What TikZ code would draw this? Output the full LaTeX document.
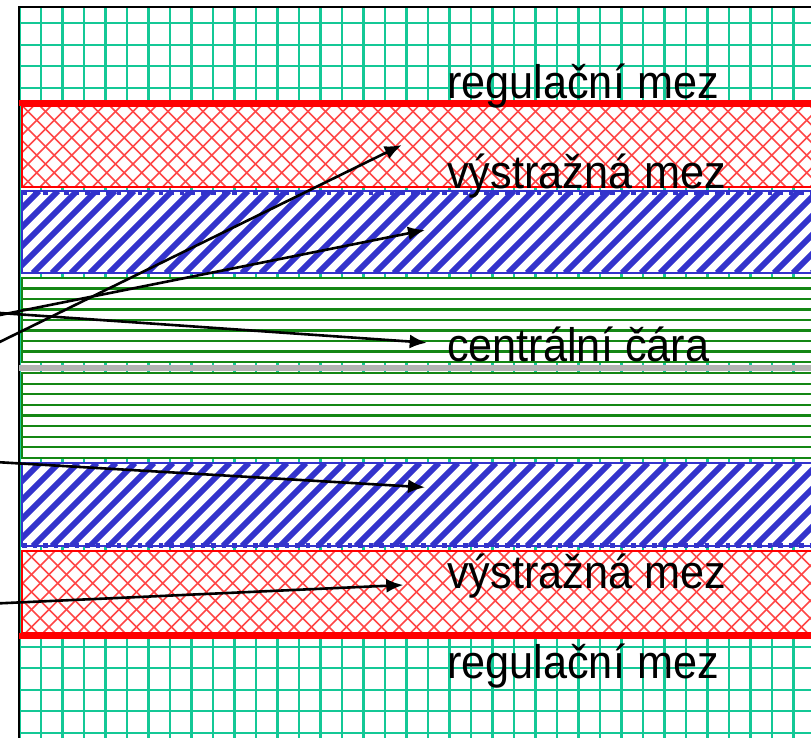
\documentclass[tikz,border=0pt]{standalone}
\usepackage{fontspec}
\setmainfont{Liberation Sans}
\newfontfamily\lblfont[FakeStretch=0.92]{Liberation Sans}
\usetikzlibrary{arrows.meta}
\definecolor{gridc}{RGB}{20,200,150}
\definecolor{hatchred}{RGB}{255,70,70}
\definecolor{bandblue}{RGB}{51,51,204}
\definecolor{bandgreen}{RGB}{20,135,20}
\definecolor{midgray}{RGB}{178,178,178}
\begin{document}
\begin{tikzpicture}[x=1pt,y=-1pt,
  lbl/.style={anchor=base west, inner sep=0pt, font=\lblfont\fontsize{47}{54}\selectfont},
  ptr/.style={line width=2.6pt, -{Latex[length=17pt,width=14pt]}},
  gridline/.style={gridc, line width=2.3pt},
  redh/.style={hatchred, line width=1.6pt},
  blueh/.style={bandblue, line width=5.8pt},
  greenh/.style={bandgreen, line width=2.2pt},
  redbox/.style={draw=red, line width=1.5pt},
  bluebox/.style={draw=bandblue, line width=1.8pt},
  greenbox/.style={draw=bandgreen, line width=1.8pt},
  limitline/.style={red, line width=6pt},
  dotedge/.style={bandblue, line width=4.5pt, dash pattern=on 4.5pt off 6pt},
  frameline/.style={black, line width=2.8pt}]
\clip (0,0) rectangle (811,737);
\fill[white] (0,0) rectangle (811,737);
% grid inside frame
\begin{scope}
\clip (19,7) rectangle (815,740);
\foreach \k in {0,...,37} \draw[gridline] ({19.5+21.5*\k},0) -- ++(0,740);
\foreach \k in {0,...,34} \draw[gridline] (0,{1.8+21.5*\k}) -- ++(815,0);
\end{scope}
% frame
\draw[frameline] (19,740) -- (19,7) -- (815,7);
% upper red band
\fill[white] (22,106) rectangle (815,187);
\begin{scope}
\clip (22,106) rectangle (815,187);
\foreach \k in {0,...,60} {
  \draw[redh] ({-100+17.5*\k},106) -- ++(81,81);
  \draw[redh] ({-100+17.5*\k},187) -- ++(81,-81);
}
\end{scope}
\draw[redbox] (22,106) rectangle (815,187);
% upper blue band
\fill[white] (22,191) rectangle (815,273);
\begin{scope}
\clip (22,191) rectangle (815,273);
\foreach \k in {0,...,55} \draw[blueh] ({-100+19*\k},273) -- ++(82,-82);
\end{scope}
\draw[bluebox] (22,191) rectangle (815,273);
\draw[dotedge] (22,192.5) -- (815,192.5);
% upper green band
\fill[white] (22,278) rectangle (815,362);
\foreach \k in {1,...,7} \draw[greenh] (22,{278+10.5*\k}) -- (815,{278+10.5*\k});
\draw[greenbox] (22,278) rectangle (815,362);
% central line
\draw[midgray, line width=5.5pt] (19,368) -- (815,368);
% lower green band
\fill[white] (22,373) rectangle (815,458);
\foreach \k in {1,...,7} \draw[greenh] (22,{373+10.6*\k}) -- (815,{373+10.6*\k});
\draw[greenbox] (22,373) rectangle (815,458);
% lower blue band
\fill[white] (22,463) rectangle (815,546);
\begin{scope}
\clip (22,463) rectangle (815,546);
\foreach \k in {0,...,55} \draw[blueh] ({-100+19*\k},546) -- ++(83,-83);
\end{scope}
\draw[bluebox] (22,463) rectangle (815,546);
\draw[dotedge] (22,545.5) -- (815,545.5);
% lower red band
\fill[white] (22,551) rectangle (815,633);
\begin{scope}
\clip (22,551) rectangle (815,633);
\foreach \k in {0,...,60} {
  \draw[redh] ({-97+17.5*\k},551) -- ++(82,82);
  \draw[redh] ({-97+17.5*\k},633) -- ++(82,-82);
}
\end{scope}
\draw[redbox] (22,551) rectangle (815,633);
% control limit lines
\draw[limitline] (19,103) -- (815,103);
\draw[limitline, line width=5.5pt] (19,636) -- (815,636);
% labels
\node[lbl] (reg1) at (447,98) {regulační mez};
\node[lbl] (vys1) at (447,188) {výstražná mez};
\node[lbl] (cen) at (447,361.5) {centrální čára};
\node[lbl] (vys2) at (447,588) {výstražná mez};
\node[lbl] (reg2) at (447,678) {regulační mez};
% pointers
\coordinate (s1) at (-20,351.6); \coordinate (t1) at (401.7,145);
\coordinate (s2) at (-20,319);   \coordinate (t2) at (425,230);
\coordinate (s3) at (-20,311.6); \coordinate (t3) at (426.7,342.7);
\coordinate (s4) at (-20,461.1); \coordinate (t4) at (425,487.3);
\coordinate (s5) at (-20,604.2); \coordinate (t5) at (403.3,585);
\draw[ptr] (s1) -- (t1);
\draw[ptr] (s2) -- (t2);
\draw[ptr] (s3) -- (t3);
\draw[ptr] (s4) -- (t4);
\draw[ptr] (s5) -- (t5);
\end{tikzpicture}
\end{document}
